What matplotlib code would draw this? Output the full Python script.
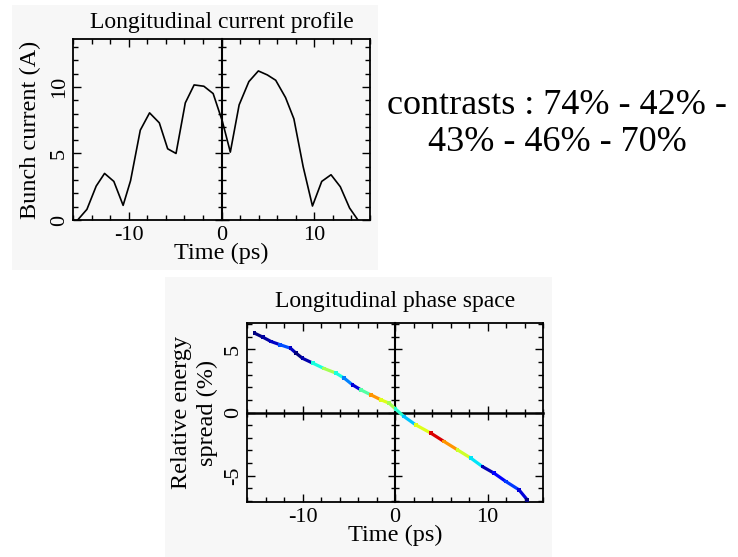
import numpy as np
import matplotlib
matplotlib.use("Agg")
import matplotlib.pyplot as plt
from matplotlib.collections import LineCollection
from matplotlib.patches import Rectangle
from matplotlib.ticker import MultipleLocator

plt.rcParams['font.family'] = ['Liberation Serif', 'DejaVu Serif']
plt.rcParams['axes.unicode_minus'] = False

# longitudinal current profile
t_cur = [-15.5, -14.5, -13.5, -12.6, -11.6, -10.6, -9.8, -8.75, -7.75, -6.7, -5.8, -4.9,
         -3.9, -2.95, -1.9, -0.9, 0.1, 0.95, 1.9, 2.95, 3.97, 4.94, 5.84, 6.9, 7.8,
         8.8, 9.8, 10.8, 11.8, 12.8, 13.8, 14.7]
i_cur = [0.0, 0.8, 2.55, 3.5, 2.9, 1.1, 2.95, 6.75, 8.05, 7.3, 5.35, 5.0,
         8.8, 10.15, 10.05, 9.5, 7.4, 5.1, 8.65, 10.4, 11.2, 10.9, 10.5, 9.2, 7.6,
         4.0, 1.05, 2.9, 3.4, 2.5, 0.9, 0.0]

# longitudinal phase space (time, energy spread, relative density)
t_ps = [-15.2, -14.3, -13.4, -12.4, -11.3, -10.7, -10.0, -8.9, -7.7, -6.4, -5.5, -4.6,
        -3.7, -2.6, -1.5, -0.64, 0.07, 0.97, 2.24, 3.86, 5.3, 6.75, 8.2, 9.45,
        10.7, 12.0, 13.4, 14.3]
e_ps = [6.3, 5.98, 5.63, 5.37, 5.1, 4.71, 4.3, 3.92, 3.5, 3.13, 2.73, 2.2,
        1.8, 1.4, 1.0, 0.74, 0.27, -0.32, -0.98, -1.63, -2.3, -2.96, -3.62, -4.29,
        -4.81, -5.48, -6.13, -6.93]
dens_ps = [0.0, 0.03, 0.06, 0.2, 0.06, 0.0, 0.04, 0.38, 0.55, 0.38, 0.25, 0.08,
           0.45, 0.75, 0.62, 0.55, 0.4, 0.32, 0.62, 0.92, 0.75, 0.6, 0.35, 0.05,
           0.12, 0.18, 0.08, 0.0]

contrasts = ["74%", "42%", "43%", "46%", "70%"]

W, H = 738, 557
fig = plt.figure(figsize=(W / 100, H / 100), dpi=100)

# light grey panels behind the two plots
fig.add_artist(Rectangle((12 / W, 1 - 270 / H), 366 / W, 265 / H, transform=fig.transFigure,
                         facecolor='#f7f7f7', edgecolor='none', zorder=-10))
fig.add_artist(Rectangle((165 / W, 0), 387 / W, 280 / H, transform=fig.transFigure,
                         facecolor='#f7f7f7', edgecolor='none', zorder=-10))


def set_locators(ax):
    ax.xaxis.set_major_locator(MultipleLocator(10))
    ax.xaxis.set_minor_locator(MultipleLocator(2))
    ax.yaxis.set_major_locator(MultipleLocator(5))
    ax.yaxis.set_minor_locator(MultipleLocator(1))


def style(ax, xlim, ylim):
    ax.set_xlim(xlim)
    ax.set_ylim(ylim)
    set_locators(ax)
    ax.set_facecolor('none')
    ax.tick_params(which='both', direction='in', top=True, right=True, width=1)
    ax.tick_params(which='major', length=5.5)
    ax.tick_params(which='minor', length=3.5)
    ax.tick_params(axis='x', labelsize=16, pad=4)
    ax.tick_params(axis='y', labelsize=16, pad=3, labelrotation=90)
    for lab in ax.get_yticklabels():
        lab.set_va('center')
    for s in ax.spines.values():
        s.set_linewidth(1.3)


def center_lines(rect, xlim, ylim, horizontal):
    cx = fig.add_axes(rect, facecolor='none', zorder=1)
    cx.set_xlim(xlim)
    cx.set_ylim(ylim)
    set_locators(cx)
    cx.spines['top'].set_visible(False)
    cx.spines['right'].set_visible(False)
    cx.spines['left'].set_position(('data', 0))
    cx.spines['left'].set_linewidth(1.5)
    if horizontal:
        cx.spines['bottom'].set_position(('data', 0))
        cx.spines['bottom'].set_linewidth(1.8)
    else:
        cx.spines['bottom'].set_visible(False)
        cx.tick_params(axis='x', which='both', bottom=False)
    cx.tick_params(which='both', direction='inout', width=1,
                   labelbottom=False, labelleft=False)
    cx.tick_params(which='major', length=10)
    cx.tick_params(which='minor', length=5.5)
    return cx


# top: current profile
rect1 = [73 / W, 1 - 220 / H, 297 / W, 181 / H]
ax1 = fig.add_axes(rect1, zorder=2)
ax1.plot(t_cur, i_cur, color='black', lw=1.2)
style(ax1, (-16, 16), (0, 13.6))
center_lines(rect1, (-16, 16), (0, 13.6), horizontal=False)
ax1.set_title("Longitudinal current profile", fontsize=17, pad=8)
ax1.set_xlabel("Time (ps)", fontsize=17.5, labelpad=-1)
ax1.set_ylabel("Bunch current (A)", fontsize=17.5, labelpad=6)

# bottom: phase space
rect2 = [247 / W, 1 - 502 / H, 296 / W, 179 / H]
ax2 = fig.add_axes(rect2, zorder=2)
pts = np.column_stack([t_ps, e_ps])
segs = np.stack([pts[:-1], pts[1:]], axis=1)
lc = LineCollection(segs, cmap='jet', norm=plt.Normalize(0, 1), linewidths=2.3)
lc.set_array(np.array(dens_ps[:-1]))
ax2.add_collection(lc)
ax2.scatter(t_ps, e_ps, c=dens_ps, cmap='jet', vmin=0, vmax=1, marker='s', s=7,
            linewidths=0, zorder=3)
style(ax2, (-16, 16), (-7.1, 7.1))
center_lines(rect2, (-16, 16), (-7.1, 7.1), horizontal=True)
ax2.set_title("Longitudinal phase space", fontsize=17, pad=11.5)
ax2.set_xlabel("Time (ps)", fontsize=17.5, labelpad=-1)
ax2.set_ylabel("Relative energy\nspread (%)", fontsize=17.5, labelpad=4, linespacing=1.3)

line1 = "contrasts : " + " - ".join(contrasts[:2]) + " -"
line2 = " - ".join(contrasts[2:])
fig.text(557 / W, 1 - 124 / H, line1 + "\n" + line2, fontsize=26, ha='center',
         va='center', multialignment='center', linespacing=1.15)

fig.savefig("out.png", dpi=100)
